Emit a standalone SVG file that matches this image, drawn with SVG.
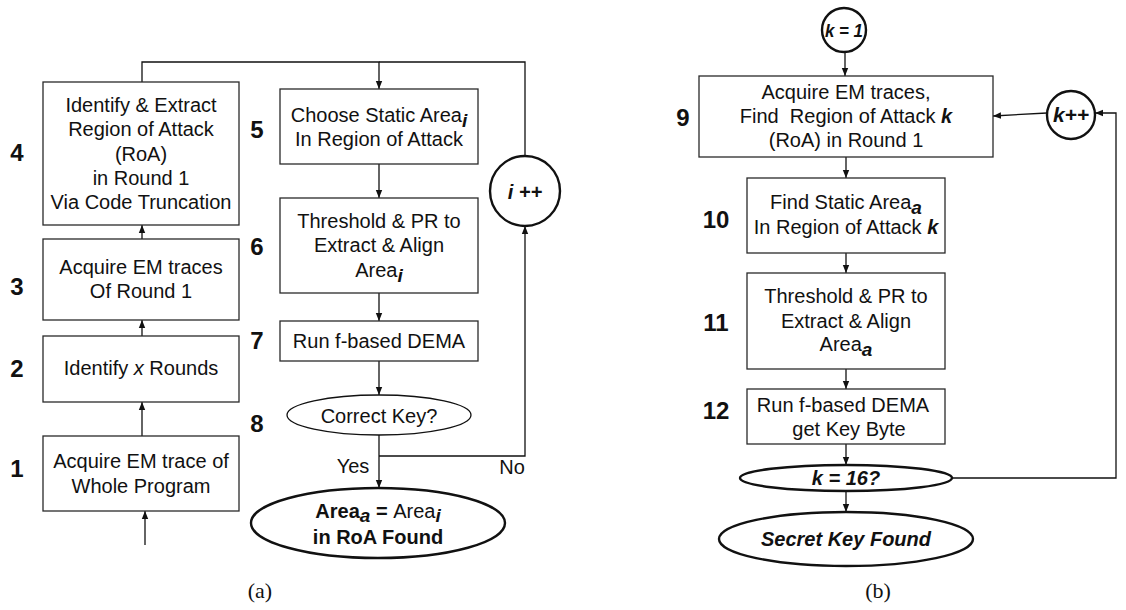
<svg xmlns="http://www.w3.org/2000/svg" width="1126" height="610" viewBox="0 0 1126 610">
<defs>
<style>
text{font-family:"Liberation Sans",Arial,sans-serif;fill:#111;}
.t{font-size:20px;text-anchor:middle;}
.num{font-size:24px;font-weight:bold;text-anchor:middle;}
.sub{font-weight:bold;font-style:italic;font-size:19px;}
.bi{font-weight:bold;font-style:italic;}
.b{font-weight:bold;}
.cap{font-family:"Liberation Serif","Times New Roman",serif;font-size:22px;text-anchor:middle;}
.box{fill:#fff;stroke:#2a2a2a;stroke-width:1.3;}
.thin{fill:#fff;stroke:#111;stroke-width:1.3;}
.thick{fill:#fff;stroke:#111;stroke-width:2.4;}
.ln{fill:none;stroke:#111;stroke-width:1.3;}
</style>
<marker id="ah" markerUnits="userSpaceOnUse" markerWidth="8" markerHeight="8" viewBox="0 0 8 8" refX="8" refY="4" orient="auto">
<path d="M0,0.8 L8,4 L0,7.2 Z" fill="#111"/>
</marker>
</defs>
<rect width="1126" height="610" fill="#fff"/>

<g id="connectors">
<!-- panel a -->
<line class="ln" x1="145" y1="545" x2="145" y2="511" marker-end="url(#ah)"/>
<line class="ln" x1="142" y1="436" x2="142" y2="402" marker-end="url(#ah)"/>
<line class="ln" x1="142" y1="336" x2="142" y2="320" marker-end="url(#ah)"/>
<line class="ln" x1="142" y1="239" x2="142" y2="225" marker-end="url(#ah)"/>
<path class="ln" d="M142 82 V62 H379 V89" marker-end="url(#ah)"/>
<path class="ln" d="M525 156 V62 H379"/>
<line class="ln" x1="379" y1="164" x2="379" y2="198" marker-end="url(#ah)"/>
<line class="ln" x1="379" y1="293" x2="379" y2="321" marker-end="url(#ah)"/>
<line class="ln" x1="379" y1="361" x2="379" y2="395" marker-end="url(#ah)"/>
<line class="ln" x1="379" y1="435" x2="379" y2="488" marker-end="url(#ah)"/>
<path class="ln" d="M379 456 H525 V226" marker-end="url(#ah)"/>
<!-- panel b -->
<line class="ln" x1="845" y1="52" x2="845" y2="76" marker-end="url(#ah)"/>
<line class="ln" x1="846" y1="157" x2="846" y2="178" marker-end="url(#ah)"/>
<line class="ln" x1="846" y1="253" x2="846" y2="273" marker-end="url(#ah)"/>
<line class="ln" x1="846" y1="369" x2="846" y2="389" marker-end="url(#ah)"/>
<line class="ln" x1="846" y1="444" x2="846" y2="465" marker-end="url(#ah)"/>
<line class="ln" x1="846" y1="491" x2="846" y2="512" marker-end="url(#ah)"/>
<path class="ln" d="M952 478 H1116 V113 H1095" marker-end="url(#ah)"/>
<line class="ln" x1="1047" y1="113" x2="993" y2="116" marker-end="url(#ah)"/>
<text class="t" x="353" y="473">Yes</text>
<text class="t" x="512" y="474">No</text>
</g>

<g id="n1">
<rect class="box" x="43" y="436" width="196" height="75"/>
<text class="t" x="141" y="468">Acquire EM trace of</text>
<text class="t" x="141" y="493">Whole Program</text>
<text class="num" x="17" y="477">1</text>
</g>
<g id="n2">
<rect class="box" x="43" y="336" width="196" height="66"/>
<text class="t" x="141" y="375">Identify <tspan font-style="italic">x</tspan> Rounds</text>
<text class="num" x="17" y="377">2</text>
</g>
<g id="n3">
<rect class="box" x="43" y="239" width="196" height="81"/>
<text class="t" x="141" y="274">Acquire EM traces</text>
<text class="t" x="141" y="298">Of Round 1</text>
<text class="num" x="17" y="295">3</text>
</g>
<g id="n4">
<rect class="box" x="43" y="82" width="196" height="143"/>
<text class="t" x="141" y="112">Identify &amp; Extract</text>
<text class="t" x="141" y="136">Region of Attack</text>
<text class="t" x="141" y="161">(RoA)</text>
<text class="t" x="141" y="185">in Round 1</text>
<text class="t" x="141" y="209">Via Code Truncation</text>
<text class="num" x="17" y="161">4</text>
</g>
<g id="n5">
<rect class="box" x="280" y="89" width="198" height="75"/>
<text class="t" x="379" y="122">Choose Static Area<tspan class="sub" dy="5">i</tspan></text>
<text class="t" x="379" y="146">In Region of Attack</text>
<text class="num" x="257" y="138">5</text>
</g>
<g id="n6">
<rect class="box" x="280" y="198" width="198" height="95"/>
<text class="t" x="379" y="228">Threshold &amp; PR to</text>
<text class="t" x="379" y="252">Extract &amp; Align</text>
<text class="t" x="379" y="277">Area<tspan class="sub" dy="5">i</tspan></text>
<text class="num" x="257" y="255">6</text>
</g>
<g id="n7">
<rect class="box" x="280" y="321" width="198" height="40"/>
<text class="t" x="379" y="348">Run f-based DEMA</text>
<text class="num" x="257" y="349">7</text>
</g>
<g id="n8">
<ellipse class="thin" cx="379" cy="415" rx="92" ry="20"/>
<text class="t" x="379" y="423">Correct Key?</text>
<text class="num" x="257" y="432">8</text>
</g>
<g id="n-inc-i">
<circle class="thick" cx="525" cy="191" r="35" stroke-width="2"/>
<text class="t bi" x="525" y="199">i ++</text>
</g>
<g id="n-found-a">
<ellipse class="thick" cx="378" cy="523" rx="127" ry="35"/>
<text class="t" x="378" y="518"><tspan class="b">Area</tspan><tspan class="sub" font-size="17" dy="4">a</tspan><tspan class="b" dy="-4"> = </tspan>Area<tspan class="sub" font-size="17" dy="4">i</tspan></text>
<text class="t b" x="378" y="544">in RoA Found</text>
</g>
<text class="cap" x="260" y="598">(a)</text>

<g id="n-k1">
<circle class="thick" cx="844" cy="30" r="22" stroke-width="2"/>
<text class="bi" x="844" y="37" font-size="18" text-anchor="middle" textLength="38" lengthAdjust="spacingAndGlyphs">k = 1</text>
</g>
<g id="n9">
<rect class="box" x="699" y="76" width="294" height="81"/>
<text class="t" x="846" y="99">Acquire EM traces,</text>
<text class="t" x="846" y="123" xml:space="preserve">Find  Region of Attack <tspan class="bi">k</tspan></text>
<text class="t" x="846" y="147">(RoA) in Round 1</text>
<text class="num" x="683" y="126">9</text>
</g>
<g id="n-kinc">
<circle class="thick" cx="1071" cy="115" r="24" stroke-width="2"/>
<text class="bi" x="1071" y="122" font-size="21" text-anchor="middle">k++</text>
</g>
<g id="n10">
<rect class="box" x="747" y="178" width="198" height="75"/>
<text class="t" x="846" y="209">Find Static Area<tspan class="sub" dy="5">a</tspan></text>
<text class="t" x="846" y="234">In Region of Attack <tspan class="bi">k</tspan></text>
<text class="num" x="716" y="228">10</text>
</g>
<g id="n11">
<rect class="box" x="747" y="273" width="198" height="96"/>
<text class="t" x="846" y="303">Threshold &amp; PR to</text>
<text class="t" x="846" y="328">Extract &amp; Align</text>
<text class="t" x="846" y="351">Area<tspan class="sub" dy="5">a</tspan></text>
<text class="num" x="716" y="331">11</text>
</g>
<g id="n12">
<rect class="box" x="747" y="389" width="198" height="55"/>
<text class="t" x="843" y="412">Run f-based DEMA</text>
<text class="t" x="849" y="436">get Key Byte</text>
<text class="num" x="716" y="419">12</text>
</g>
<g id="n-k16">
<ellipse class="thick" cx="846" cy="478" rx="106" ry="13" stroke-width="2"/>
<text class="t bi" x="846" y="485">k = 16?</text>
</g>
<g id="n-secret">
<ellipse class="thick" cx="846" cy="539" rx="127" ry="27"/>
<text class="t bi" x="846" y="546">Secret Key Found</text>
</g>
<text class="cap" x="878" y="598">(b)</text>
</svg>
